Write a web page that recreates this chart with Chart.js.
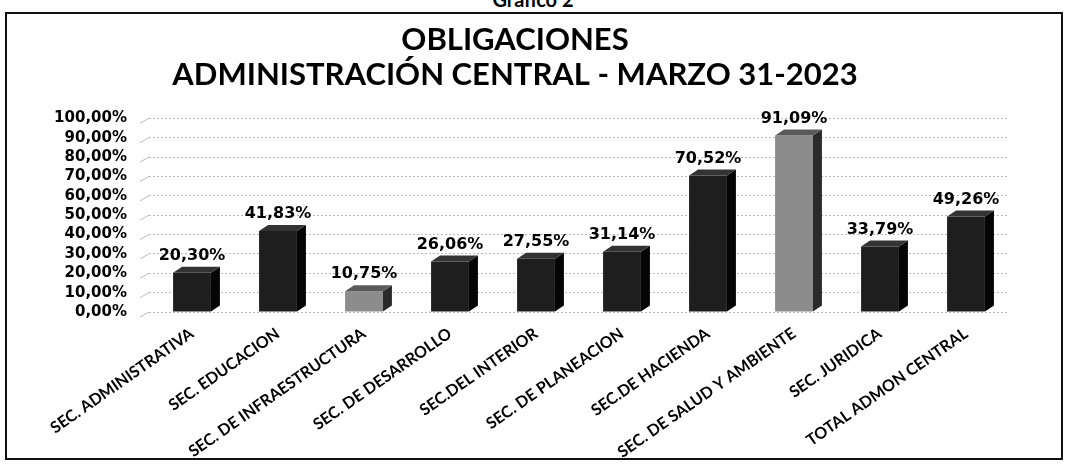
<!DOCTYPE html>
<html>
<head>
<meta charset="utf-8">
<script src="https://cdn.jsdelivr.net/npm/chart.js@4/dist/chart.umd.min.js"></script>
<style>
  html, body { margin: 0; padding: 0; background: #fff; overflow: hidden; }
  #wrap { position: relative; width: 1066px; height: 468px; }
  #frame { position: absolute; left: 5px; top: 12px; width: 1054px; height: 444px; border: 2px solid #111; }
  #caption { position: absolute; left: 0; width: 1066px; top: -13px; text-align: center;
             font: bold 20px Lato, sans-serif; color: #000; }
  canvas { position: absolute; left: 0; top: 0; }
</style>
</head>
<body>
<div id="wrap">
  <div id="caption">Gráfico 2</div>
  <div id="frame"></div>
  <canvas id="chart" width="1066" height="468"></canvas>
</div>
<script>
// data
const categories = [
  'SEC. ADMINISTRATIVA', 'SEC. EDUCACION', 'SEC. DE INFRAESTRUCTURA', 'SEC. DE DESARROLLO',
  'SEC.DEL INTERIOR', 'SEC. DE PLANEACION', 'SEC.DE HACIENDA', 'SEC. DE SALUD Y AMBIENTE',
  'SEC. JURIDICA', 'TOTAL ADMON CENTRAL'
];
const obligaciones = [20.30, 41.83, 10.75, 26.06, 27.55, 31.14, 70.52, 91.09, 33.79, 49.26];
const highlighted = [false, false, true, false, false, false, false, true, false, false];
const titleLines = ['OBLIGACIONES', 'ADMINISTRACIÓN CENTRAL - MARZO 31-2023'];

const fmt = v => v.toFixed(2).replace('.', ',') + '%';

// fake 3D: side + top faces drawn from each bar element, then the value label
const bars3d = {
  id: 'bars3d',
  beforeDatasetsDraw(chart) {
    // little slanted "back wall" ends of the gridlines
    const ctx = chart.ctx, ys = chart.scales.y, left = chart.chartArea.left;
    ctx.save();
    ctx.strokeStyle = '#bbb';
    ctx.lineWidth = 1;
    ys.ticks.forEach(t => {
      const y = ys.getPixelForValue(t.value);
      ctx.beginPath();
      ctx.moveTo(left - 9, y + 5);
      ctx.lineTo(left, y);
      ctx.stroke();
    });
    ctx.restore();
  },
  afterDatasetsDraw(chart) {
    const ctx = chart.ctx;
    const meta = chart.getDatasetMeta(0);
    const d = 9, dy = 6;
    meta.data.forEach((bar, i) => {
      const { x, y, base, width } = bar.getProps(['x', 'y', 'base', 'width'], true);
      const l = x - width / 2, r = x + width / 2;
      const gray = highlighted[i];
      ctx.save();
      // side
      ctx.fillStyle = gray ? '#2a2a2a' : '#050505';
      ctx.beginPath();
      ctx.moveTo(r, y); ctx.lineTo(r + d, y - dy); ctx.lineTo(r + d, base - dy); ctx.lineTo(r, base);
      ctx.closePath(); ctx.fill();
      // top
      ctx.fillStyle = gray ? '#5a5a5a' : '#333';
      ctx.beginPath();
      ctx.moveTo(l, y); ctx.lineTo(l + d, y - dy); ctx.lineTo(r + d, y - dy); ctx.lineTo(r, y);
      ctx.closePath(); ctx.fill();
      // value label
      ctx.fillStyle = '#000';
      ctx.font = 'bold 16px "DejaVu Sans", Verdana, sans-serif';
      ctx.textAlign = 'center';
      ctx.textBaseline = 'bottom';
      ctx.fillText(fmt(obligaciones[i]), x, y - dy - 3);
      ctx.restore();
    });
  }
};

new Chart(document.getElementById('chart'), {
  type: 'bar',
  data: {
    labels: categories,
    datasets: [{
      data: obligaciones,
      backgroundColor: highlighted.map(h => h ? '#8c8c8c' : '#1e1e1e'),
      barPercentage: 0.44,
      categoryPercentage: 1
    }]
  },
  options: {
    responsive: false,
    animation: false,
    devicePixelRatio: 1,
    layout: { padding: { left: 21, right: 57, top: 0, bottom: 0 } },
    plugins: {
      legend: { display: false },
      tooltip: { enabled: false },
      title: {
        display: true,
        text: titleLines,
        color: '#000',
        font: { family: 'Lato, sans-serif', size: 31, weight: 'bold', lineHeight: 1.15 },
        padding: { top: 22, bottom: 25 }
      }
    },
    scales: {
      y: {
        min: 0, max: 100,
        afterFit: s => { s.width = 128; },
        border: { display: false, dash: [2, 2] },
        grid: { color: '#b8b8b8', lineWidth: 1, drawTicks: false },
        ticks: {
          stepSize: 10,
          autoSkip: false,
          padding: 22,
          color: '#000',
          font: { family: '"DejaVu Sans", Verdana, sans-serif', size: 15, weight: 'bold' },
          callback: v => fmt(v)
        }
      },
      x: {
        afterFit: s => { s.height = 156; },
        border: { display: false },
        grid: { display: false },
        ticks: {
          minRotation: 35, maxRotation: 35,
          padding: 4,
          autoSkip: false,
          color: '#000',
          font: { family: 'Lato, sans-serif', size: 16, weight: 'bold' }
        }
      }
    }
  },
  plugins: [bars3d]
});
</script>
</body>
</html>
